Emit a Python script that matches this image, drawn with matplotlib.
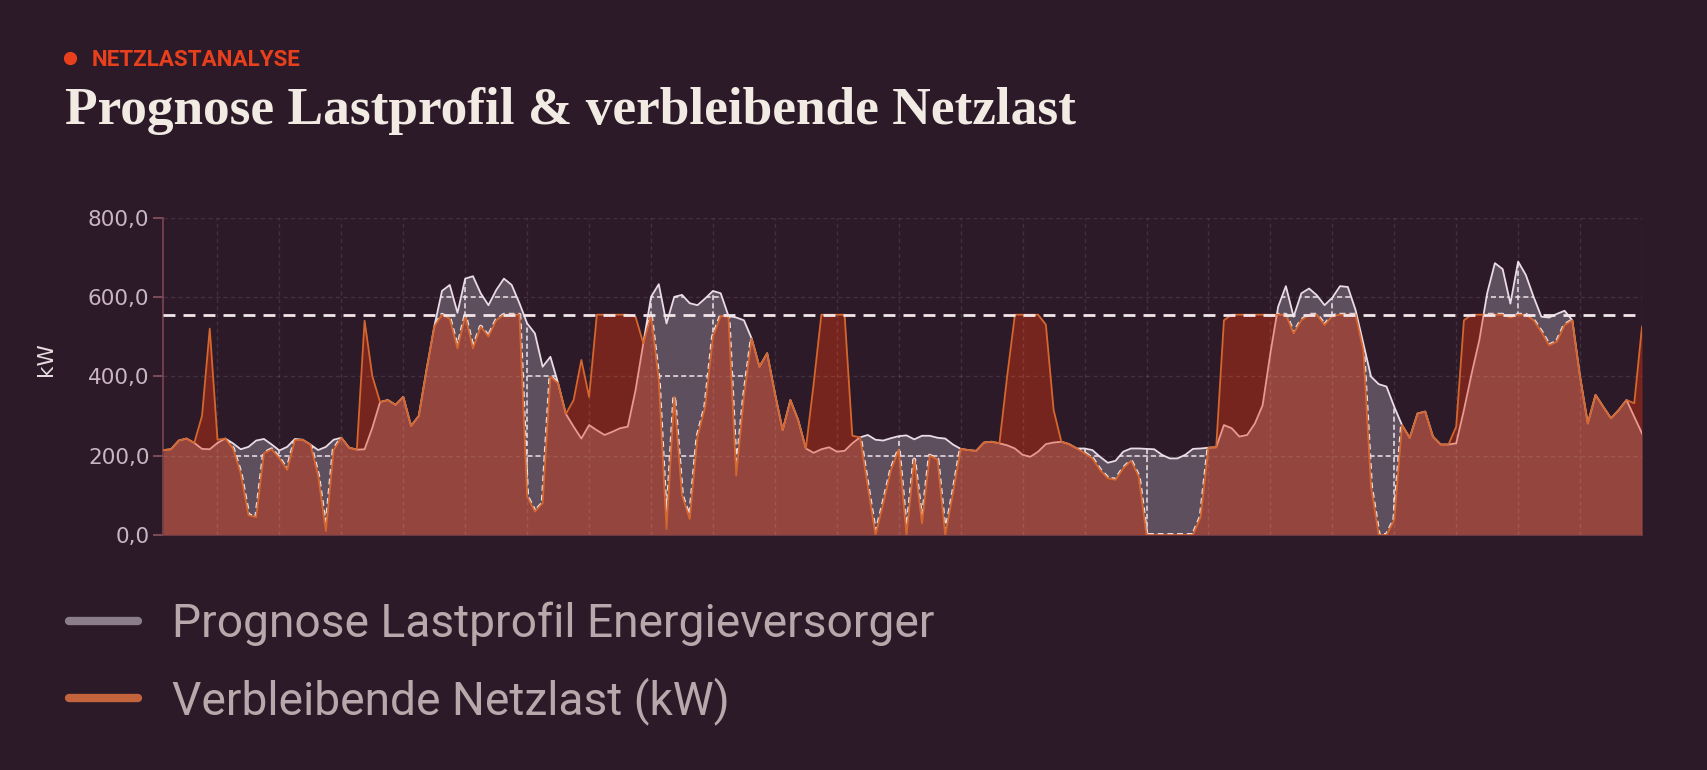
import numpy as np
import matplotlib
matplotlib.use('Agg')
import matplotlib.pyplot as plt
from matplotlib.path import Path
from matplotlib.lines import Line2D

# time axis: 7.5 min steps, 00:07:30 .. 24:00
hours = np.arange(192) * 0.125 + 0.125

prognose = [
    214, 216, 238, 243, 232, 217, 216, 232, 243, 231, 216, 222, 238, 242, 228, 213,
    222, 242, 240, 228, 214, 222, 240, 245, 220, 215, 216, 270, 335, 340, 328, 348,
    275, 300, 416, 525, 615, 630, 560, 646, 652, 609, 579, 617, 646, 630, 584, 533,
    508, 424, 449, 382, 305, 273, 243, 277, 264, 252, 260, 269, 273, 365, 483, 600,
    632, 533, 600, 605, 584, 579, 596, 615, 609, 552, 548, 541, 495, 424, 458, 357,
    264, 340, 290, 218, 207, 216, 221, 210, 212, 231, 246, 252, 240, 238, 244, 249,
    251, 241, 250, 250, 245, 243, 228, 217, 214, 212, 233, 235, 231, 226, 218, 202,
    197, 210, 229, 233, 235, 229, 218, 218, 214, 197, 182, 187, 210, 218, 218, 217,
    216, 202, 193, 193, 202, 217, 218, 220, 221, 277, 269, 248, 252, 281, 327, 458,
    575, 627, 550, 609, 621, 604, 579, 598, 627, 625, 567, 483, 399, 380, 374, 323,
    277, 245, 306, 311, 248, 228, 228, 231, 315, 407, 492, 609, 685, 670, 583, 689,
    655, 600, 550, 548, 557, 565, 541, 399, 281, 353, 323, 294, 315, 340, 298, 256,
]

netzlast = [
    214, 216, 238, 243, 232, 300, 520, 240, 243, 218, 155, 50, 45, 206, 216, 193,
    164, 239, 240, 228, 150, 10, 214, 245, 220, 215, 540, 400, 335, 340, 328, 348,
    275, 300, 416, 525, 555, 545, 470, 552, 470, 525, 500, 541, 555, 555, 555, 97,
    59, 80, 399, 382, 305, 340, 441, 348, 555, 555, 555, 555, 555, 550, 483, 552,
    390, 15, 348, 100, 40, 248, 323, 500, 552, 550, 150, 348, 495, 424, 458, 357,
    264, 340, 290, 218, 380, 555, 555, 555, 555, 250, 246, 122, 0, 80, 164, 215,
    0, 190, 29, 200, 190, 0, 105, 217, 214, 212, 233, 235, 231, 400, 555, 555,
    555, 555, 530, 315, 235, 229, 218, 206, 193, 164, 143, 139, 168, 187, 147, 0,
    0, 0, 0, 0, 0, 0, 46, 220, 221, 541, 555, 555, 555, 555, 555, 555,
    555, 555, 508, 541, 555, 555, 529, 552, 555, 555, 555, 466, 122, 0, 0, 38,
    277, 245, 306, 311, 248, 228, 228, 273, 541, 555, 555, 555, 555, 555, 548, 555,
    555, 541, 512, 478, 487, 529, 541, 399, 281, 353, 323, 294, 315, 340, 332, 525,
]

limit_kw = 555
y_ticks = [0, 200, 400, 600, 800]
y_tick_labels = ['0,0', '200,0', '400,0', '600,0', '800,0']
legend_labels = ['Prognose Lastprofil Energieversorger', 'Verbleibende Netzlast (kW)']

prognose = np.array(prognose, dtype=float)
netzlast = np.array(netzlast, dtype=float)

BG = '#2c1a29'
W, H = 1708, 770

fig = plt.figure(figsize=(W / 100, H / 100), dpi=100, facecolor=BG)
ax = fig.add_axes([163.3 / W, 1 - 535 / H, 1478.7 / W, 317.5 / H])
ax.set_facecolor(BG)

# areas
ax.fill_between(hours, 0, prognose, color='#5e4f5e', lw=0, zorder=1)
ax.plot(hours, prognose, color='#eadce6', lw=1.3, zorder=2)
ax.fill_between(hours, 0, netzlast, color='#e7370e', alpha=0.4, lw=0, zorder=3)

# dim grid over everything
for h in range(1, 25):
    ax.axvline(h, color='white', alpha=0.1, lw=1, dashes=(3, 2.4), zorder=4)
for v in y_ticks[1:]:
    ax.axhline(v, color='white', alpha=0.1, lw=1, dashes=(3, 2.4), zorder=4)

# brighter grid inside the gap between forecast and remaining load
gap = ax.fill_between(hours, netzlast, prognose, where=prognose > netzlast,
                      interpolate=True, facecolor='none', lw=0, zorder=0)
gap_path = Path.make_compound_path(*gap.get_paths())
white_lines = []
for h in range(1, 25):
    white_lines.append(ax.axvline(h, color='#eee3ea', lw=1.1, dashes=(3.3, 2), zorder=5))
for v in y_ticks[1:]:
    white_lines.append(ax.axhline(v, color='#eee3ea', lw=1.1, dashes=(3.3, 2), zorder=5))
white_lines += ax.plot(hours, netzlast, color='#eee3ea', lw=2.8, dashes=(1.5, 1), zorder=5)
for ln in white_lines:
    ln.set_clip_path(gap_path, ax.transData)

ax.plot(hours, netzlast, color='#d5662d', lw=1.3, zorder=6)
ax.axhline(limit_kw, color='#f1e6ea', lw=2, dashes=(4.3, 2.9), zorder=7)

ax.set_xlim(hours[0], hours[-1])
ax.set_ylim(0, 800)
ax.set_xticks([])
ax.set_yticks(y_ticks)
ax.set_yticklabels(y_tick_labels)
ax.tick_params(axis='y', colors='#8a5560', labelcolor='#c9b6c2', length=7, width=1.2,
               pad=3, labelsize=15.5)
for s in ['top', 'right']:
    ax.spines[s].set_visible(False)
ax.spines['left'].set_color('#7b4650')
ax.spines['left'].set_linewidth(1.2)
ax.spines['bottom'].set_color('#6a3a44')
ax.spines['bottom'].set_zorder(8)

fig.text(46 / W, 1 - 359 / H, 'kW', rotation=90, color='#e8dde0', fontsize=15.5,
         ha='center', va='center')

# header
fig.add_artist(Line2D([70 / W], [1 - 57.5 / H], marker='o', markersize=8.5, lw=0,
                      color='#e8401c', transform=fig.transFigure))
sub = fig.text(92 / W, 1 - 65.7 / H, 'NETZLASTANALYSE', color='#e8401c', fontsize=16,
               fontweight='bold', family='Roboto', ha='left', va='baseline')
title = fig.text(65 / W, 1 - 123.6 / H, 'Prognose Lastprofil & verbleibende Netzlast',
                 color='#f1ebe3', fontsize=40, fontweight='bold',
                 family='Liberation Serif', ha='left', va='baseline')

# legend
leg_colors = ['#8c7d8a', '#c4643d']
leg_y = [621, 698]
leg_base = [637, 714]
leg_texts = []
for lab, col, y, yb in zip(legend_labels, leg_colors, leg_y, leg_base):
    fig.add_artist(Line2D([69 / W, 138 / W], [1 - y / H, 1 - y / H], color=col, lw=6,
                          solid_capstyle='round', transform=fig.transFigure))
    leg_texts.append(fig.text(172 / W, 1 - yb / H, lab, color='#b9a8ab', fontsize=32,
                              family='Roboto', ha='left', va='baseline'))

# fit header/legend text widths to the reference
fig.canvas.draw()
r = fig.canvas.get_renderer()
for t, target in [(title, 1010), (sub, 209), (leg_texts[0], 763)]:
    w = t.get_window_extent(r).width
    t.set_fontsize(t.get_fontsize() * target / w)
leg_texts[1].set_fontsize(leg_texts[0].get_fontsize())

fig.savefig('out.png', dpi=100, facecolor=BG)
